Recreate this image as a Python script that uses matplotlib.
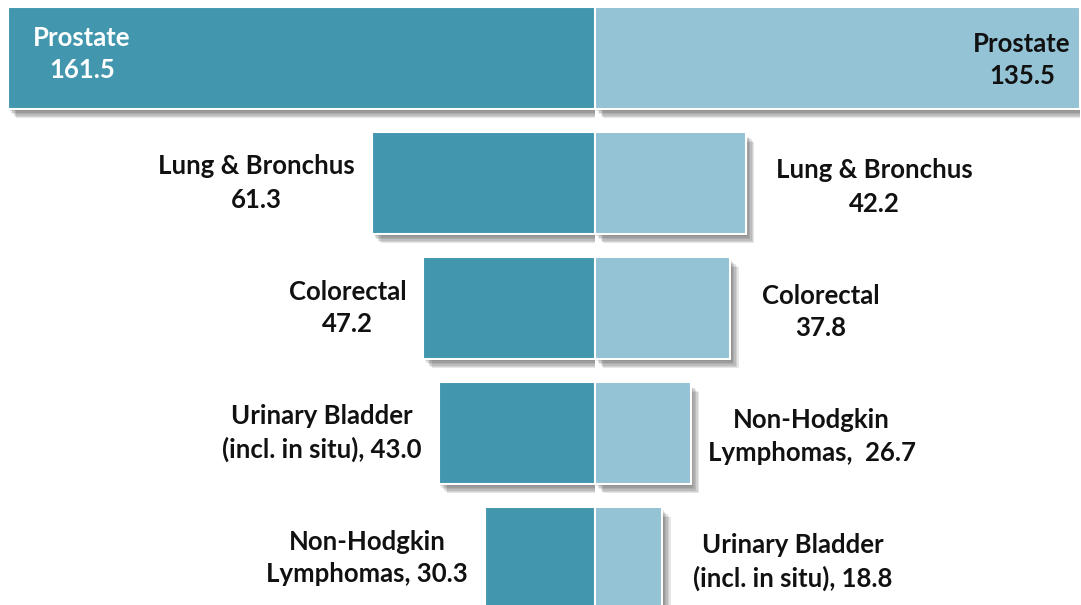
import numpy as np
import matplotlib.pyplot as plt
import matplotlib.patheffects as pe

plt.rcParams['font.family'] = ['Lato', 'DejaVu Sans']

left_sites = ['Prostate', 'Lung & Bronchus', 'Colorectal', 'Urinary Bladder\n(incl. in situ)', 'Non-Hodgkin\nLymphomas']
left_vals = [161.5, 61.3, 47.2, 43.0, 30.3]
right_sites = ['Prostate', 'Lung & Bronchus', 'Colorectal', 'Non-Hodgkin\nLymphomas', 'Urinary Bladder\n(incl. in situ)']
right_vals = [135.5, 42.2, 37.8, 26.7, 18.8]

left_labels = ['Prostate\n161.5', 'Lung & Bronchus\n61.3', 'Colorectal\n47.2',
               'Urinary Bladder\n(incl. in situ), 43.0', 'Non-Hodgkin\nLymphomas, 30.3']
right_labels = ['Prostate\n135.5', 'Lung & Bronchus\n42.2', 'Colorectal\n37.8',
                'Non-Hodgkin\nLymphomas,  26.7', 'Urinary Bladder\n(incl. in situ), 18.8']

dark = '#4297ae'
light = '#93c3d5'
W, H = 1081, 605
fig = plt.figure(figsize=(W / 100, H / 100), dpi=100)
fig.patch.set_facecolor('white')

axl = fig.add_axes([8 / W, 0, (595 - 8) / W, 1])
axr = fig.add_axes([595 / W, 0, (1080 - 595) / W, 1])

y = np.arange(len(left_vals))
ylim = (4.376, -0.464)
# soft drop shadow built from a few faint offset copies
shadow = [pe.SimplePatchShadow(offset=(o, -o - 1), shadow_rgbFace='#333333', alpha=0.12)
          for o in (1, 2, 3, 4, 5, 6)] + [pe.Normal()]

for ax in (axl, axr):
    ax.set_ylim(*ylim)
    ax.axis('off')

axl.set_xlim(-left_vals[0], 0)
axr.set_xlim(0, right_vals[0])

bl = axl.barh(y, [-v for v in left_vals], height=0.81, color=dark, edgecolor='white', linewidth=1.5)
br = axr.barh(y, right_vals, height=0.81, color=light, edgecolor='white', linewidth=1.5)
for b in list(bl) + list(br):
    b.set_path_effects(shadow)

fs = 18.5
kw = dict(fontsize=fs, fontweight='bold', va='center', multialignment='center',
          linespacing=1.45, textcoords='offset pixels')

# left labels
axl.annotate(left_labels[0], (-left_vals[0], 0), xytext=(74, 4), color='white', ha='center', **kw)
for i in range(1, len(left_vals)):
    axl.annotate(left_labels[i], (-left_vals[i], i), xytext=(-17, 0), color='#111111',
                 ha='right', **kw)

# right labels
axr.annotate(right_labels[0], (right_vals[0], 0), xytext=(-58, -2), color='#111111',
             ha='center', **kw)
gaps = [0, 30, 32, 17, 31]
for i in range(1, len(right_vals)):
    axr.annotate(right_labels[i], (right_vals[i], i), xytext=(gaps[i], -4), color='#111111',
                 ha='left', **kw)

fig.savefig('out.png', dpi=100, facecolor='white')
